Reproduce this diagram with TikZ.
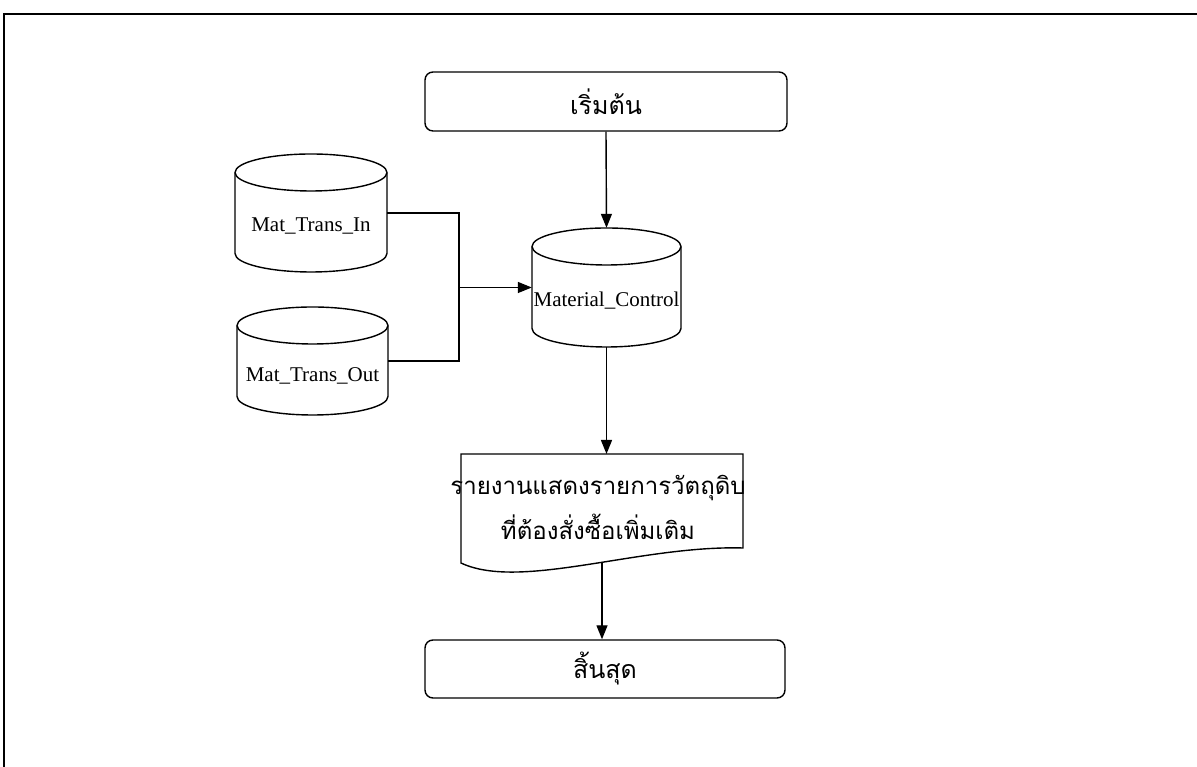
\documentclass[tikz,border=0pt]{standalone}
\usepackage{fontspec}
\setmainfont{Liberation Serif}
\newfontfamily\thaifont[Script=Thai]{Loma}
\usetikzlibrary{arrows.meta}
\newcommand\dbcyl[5]{% cx, top, bottom, rx, ry
  \draw[line] ({#1-#4},{#2-#5}) arc[start angle=180,end angle=0,x radius=#4,y radius=#5]
     -- ({#1+#4},{#3+#5}) arc[start angle=0,end angle=-180,x radius=#4,y radius=#5] -- cycle;
  \draw[line] ({#1-#4},{#2-#5}) arc[start angle=180,end angle=360,x radius=#4,y radius=#5];
}
\begin{document}
\begin{tikzpicture}[x=1pt,y=1pt,
  line/.style={line width=1.4pt, draw=black},
  arr/.style={line, -{Triangle[length=14pt,width=11pt]}},
  termbox/.style={line, rounded corners=8pt, minimum width=362pt, minimum height=59pt, inner sep=0pt, font=\thaifont\fontsize{25}{28}\selectfont},
  cylnode/.style={inner sep=0pt},
  lbl/.style={inner sep=0pt, font=\fontsize{21}{24}\selectfont},
  doctext/.style={inner sep=0pt, align=center, font=\thaifont\fontsize{24}{45}\selectfont}
]
\useasboundingbox (0,0) rectangle (1197,767);
\draw[line width=1.5pt] (4,0) -- (4,753) -- (1197,753);

% terminals
\node[termbox] (start) at (606,665.5) {เริ่มต้น};
\node[termbox, minimum width=360pt, minimum height=58pt] (stop) at (605,98) {สิ้นสุด};

% cylinders
\dbcyl{606.5}{539}{420}{74.5}{18.5}
\node[cylnode, minimum width=149pt, minimum height=119pt] (mc) at (606.5,479.5) {};
\node[lbl] (mcl) at (606.5,466) {Material\_Control};

\dbcyl{311}{613}{495}{76}{18.5}
\node[cylnode, minimum width=152pt, minimum height=118pt] (tin) at (311,554) {};
\node[lbl] (tinl) at (311,541) {Mat\_Trans\_In};

\dbcyl{312.5}{460}{352}{75.5}{18.5}
\node[cylnode, minimum width=151pt, minimum height=108pt] (tout) at (312.5,406) {};
\node[lbl] (toutl) at (312.5,391) {Mat\_Trans\_Out};

% document
\draw[line] (461,313) -- (743,313) -- (743,219) .. controls (640,222) and (520,176) .. (461,204) -- cycle;
\coordinate (docT) at (603,313);
\coordinate (docB) at (602,204.5);
\node[doctext] (doc) at (598,259.5) {รายงานแสดงรายการวัตถุดิบ\\ที่ต้องสั่งซื้อเพิ่มเติม};

% connectors
\coordinate (j) at (459,479.5);
\draw[arr] (start.south) -- (mc.north);
\draw[line] (tin.east) -| (j);
\draw[line] (tout.east) -| (j);
\draw[arr] (j) -- (mc.west);
\draw[arr] (mc.south) -- (mc.south |- docT);
\draw[arr] (docB) -- (docB |- stop.north);
\end{tikzpicture}
\end{document}
